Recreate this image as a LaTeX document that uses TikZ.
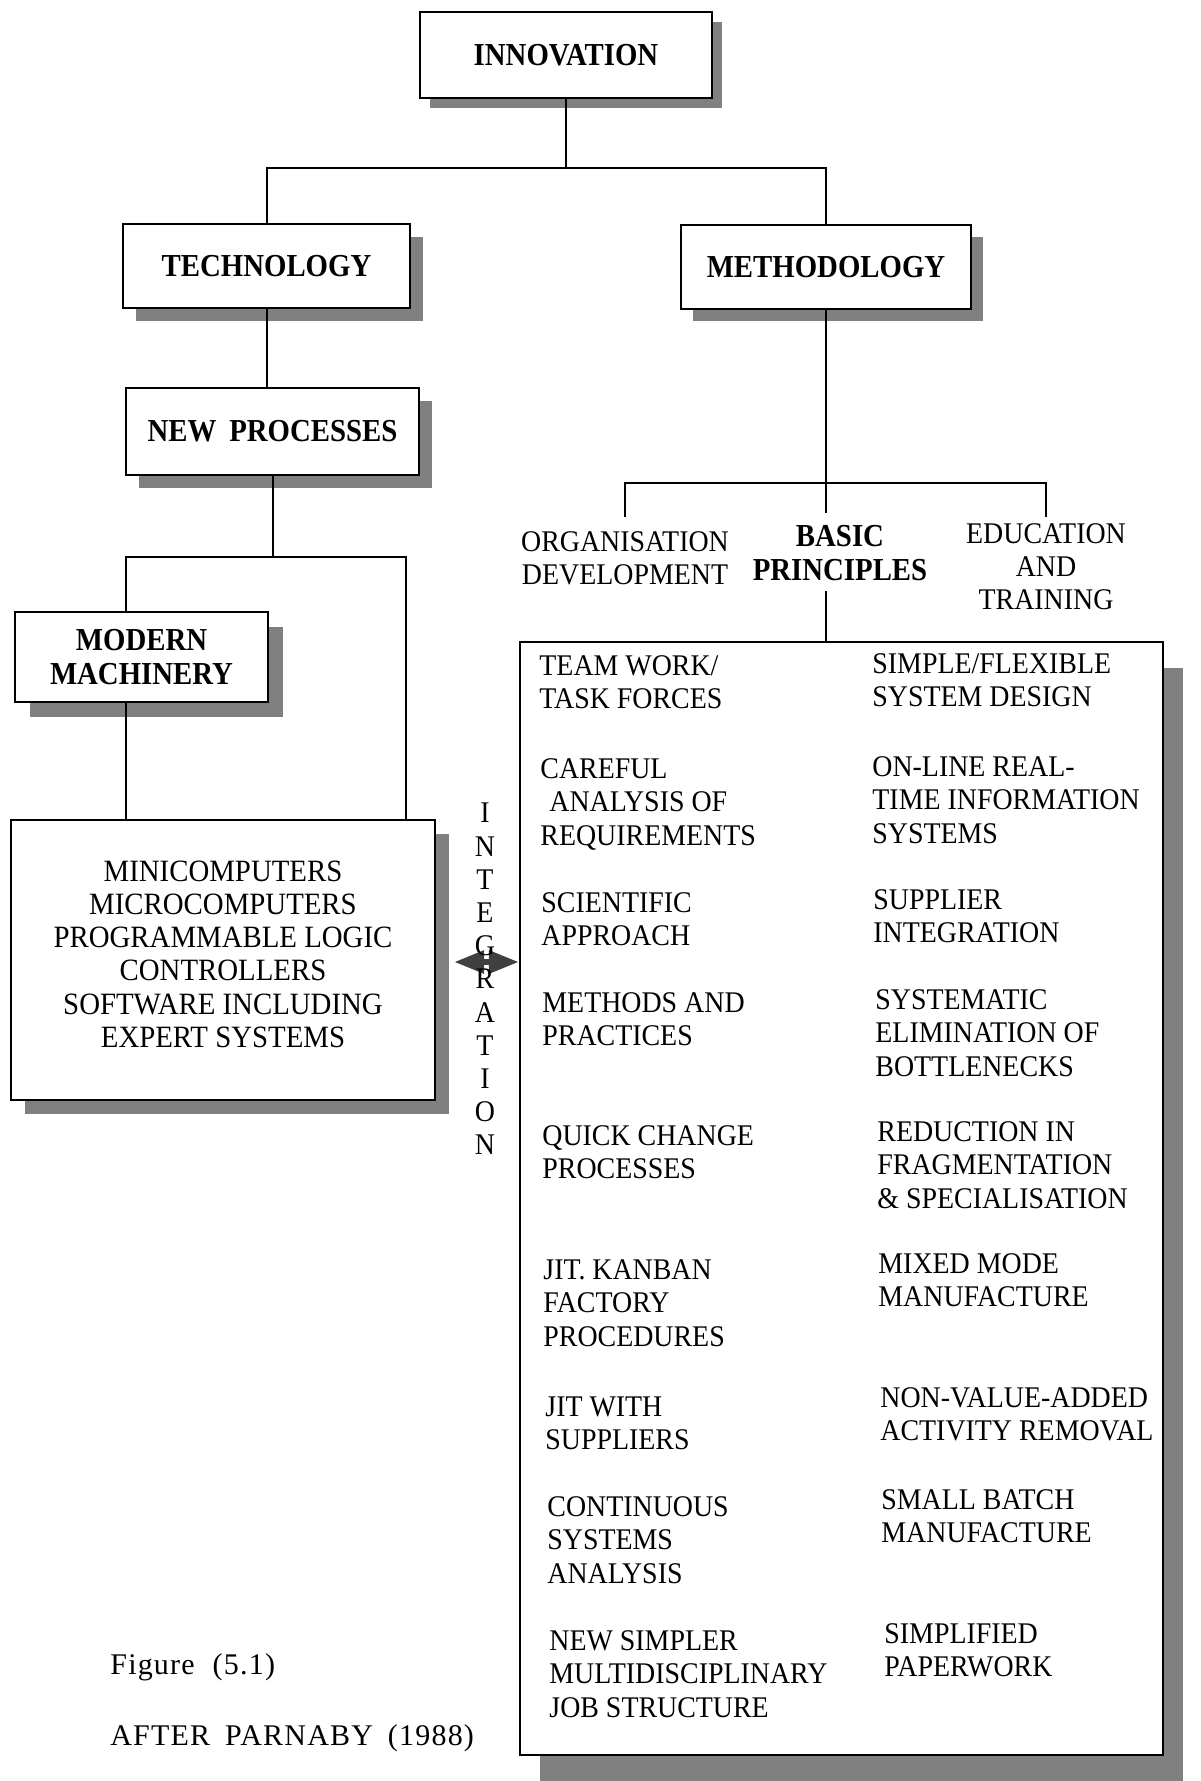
\documentclass[tikz,border=0pt]{standalone}
\usepackage{fontspec}
\setmainfont{Liberation Serif}
\newfontfamily\cond[FakeStretch=0.93]{Liberation Serif}
\newfontfamily\hdr[FakeStretch=0.9]{Liberation Serif}
\newfontfamily\capt[LetterSpace=4]{Liberation Serif}
\usetikzlibrary{shadows,arrows.meta}

\tikzset{
  sbox/.style={draw, line width=1.2pt, fill=white, inner sep=2pt,
    drop shadow={shadow xshift=#1, shadow yshift=-#1, fill=black!50, opacity=1}},
  hdrtext/.style={font=\hdr\bfseries\fontsize{16}{17}\selectfont, align=center},
  plaintext/.style={font=\cond\fontsize{15}{16.5}\selectfont, align=center},
  conn/.style={line width=1pt},
  item/.style={anchor=north west, inner sep=0pt, align=left,
    font=\cond\fontsize{15}{16.8}\selectfont},
  integr/.style={line width=3pt, draw=black!75,
    {Triangle[length=15pt,width=11pt,fill=black!75]}-{Triangle[length=15pt,width=11pt,fill=black!75]}},
}

\begin{document}
\begin{tikzpicture}[x=0.5pt, y=-0.5pt]
\useasboundingbox (0,0) rectangle (1200,1781);

% hierarchy boxes
\node[sbox=5pt, hdrtext, minimum width=146pt, minimum height=43pt] (innov) at (566,55) {INNOVATION};
\node[sbox=6.5pt, hdrtext, minimum width=143.5pt, minimum height=42pt] (tech) at (266.5,266) {TECHNOLOGY};
\node[sbox=6pt, hdrtext, minimum width=145pt, minimum height=42pt] (meth) at (826,267) {METHODOLOGY};
\node[sbox=6.5pt, hdrtext, minimum width=146.5pt, minimum height=43.5pt] (newproc) at (272.5,431.5) {NEW\hspace{0.4em}PROCESSES};
\node[sbox=7.5pt, hdrtext, minimum width=126.5pt, minimum height=45pt] (modmach) at (141.5,657) {MODERN\\MACHINERY};
\node[sbox=7pt, font=\cond\fontsize{15.5}{16.6}\selectfont, align=center,
      minimum width=212pt, minimum height=140pt, text depth=6pt] (comp) at (223,960)
  {MINICOMPUTERS\\MICROCOMPUTERS\\PROGRAMMABLE LOGIC\\CONTROLLERS\\SOFTWARE INCLUDING\\EXPERT SYSTEMS};
\node[draw, line width=1.2pt, fill=white,
      drop shadow={shadow xshift=10pt, shadow yshift=-13pt, fill=black!50, opacity=1},
      minimum width=321.5pt, minimum height=556.5pt] (big) at (841.5,1198.5) {};

% methodology branches
\node[plaintext] (orgdev) at (625,558) {ORGANISATION\\DEVELOPMENT};
\node[hdrtext] (basic) at (840,553) {BASIC\\PRINCIPLES};
\node[plaintext] (edu) at (1046,567) {EDUCATION\\AND\\TRAINING};

% connectors
\draw[conn] (innov.south) -- (innov.south |- 0,168);
\draw[conn] (tech.north) -- (tech.north |- 0,168) -- (meth.north |- 0,168) -- (meth.north);
\draw[conn] (tech.south) -- (tech.south |- newproc.north);
\draw[conn] (newproc.south) -- (newproc.south |- 0,557);
\draw[conn] (126,0 |- modmach.north) -- (126,557) -- (406,557) -- (406,0 |- comp.north);
\draw[conn] (126,0 |- modmach.south) -- (126,0 |- comp.north);
\draw[conn] (meth.south) -- (meth.south |- 0,513);
\draw[conn] (orgdev.north |- 0,517) -- (orgdev.north |- 0,483) -- (edu.north |- 0,483) -- (edu.north |- 0,517);
\draw[conn] (meth.south |- 0,591) -- (meth.south |- big.north);

% integration arrow
\draw[integr] ([xshift=9pt]comp.east |- 0,962) -- (big.west |- 0,962);
\node[font=\cond\fontsize{15}{16.6}\selectfont, align=center, inner sep=0pt] (integ) at (485,979)
  {I\\N\\T\\E\\G\\R\\A\\T\\I\\O\\N};

% basic principles, left column
\node[item] (l1) at (539,655) {TEAM WORK/\\TASK FORCES};
\node[item] (l2) at (540,758) {CAREFUL\\\hspace{4.5pt}ANALYSIS OF\\REQUIREMENTS};
\node[item] (l3) at (541,892) {SCIENTIFIC\\APPROACH};
\node[item] (l4) at (542,992) {METHODS AND\\PRACTICES};
\node[item] (l5) at (542,1125) {QUICK CHANGE\\PROCESSES};
\node[item] (l6) at (543,1259) {JIT. KANBAN\\FACTORY\\PROCEDURES};
\node[item] (l7) at (545,1396) {JIT WITH\\SUPPLIERS};
\node[item] (l8) at (547,1496) {CONTINUOUS\\SYSTEMS\\ANALYSIS};
\node[item] (l9) at (549,1630) {NEW SIMPLER\\MULTIDISCIPLINARY\\JOB STRUCTURE};

% basic principles, right column
\node[item] (r1) at (872,653) {SIMPLE/FLEXIBLE\\SYSTEM DESIGN};
\node[item] (r2) at (872,756) {ON-LINE REAL-\\TIME INFORMATION\\SYSTEMS};
\node[item] (r3) at (873,889) {SUPPLIER\\INTEGRATION};
\node[item] (r4) at (875,989) {SYSTEMATIC\\ELIMINATION OF\\BOTTLENECKS};
\node[item] (r5) at (877,1121) {REDUCTION IN\\FRAGMENTATION\\\& SPECIALISATION};
\node[item] (r6) at (878,1253) {MIXED MODE\\MANUFACTURE};
\node[item] (r7) at (880,1387) {NON-VALUE-ADDED\\ACTIVITY REMOVAL};
\node[item] (r8) at (881,1489) {SMALL BATCH\\MANUFACTURE};
\node[item] (r9) at (884,1623) {SIMPLIFIED\\PAPERWORK};

% caption
\node[anchor=west, inner sep=0pt, font=\capt\fontsize{15}{17}\selectfont] (fig) at (110,1667) {Figure\hspace{0.6em}(5.1)};
\node[anchor=west, inner sep=0pt, font=\capt\fontsize{15}{17}\selectfont] (src) at (110,1738) {AFTER\hspace{0.5em}PARNABY\hspace{0.5em}(1988)};
\end{tikzpicture}
\end{document}
